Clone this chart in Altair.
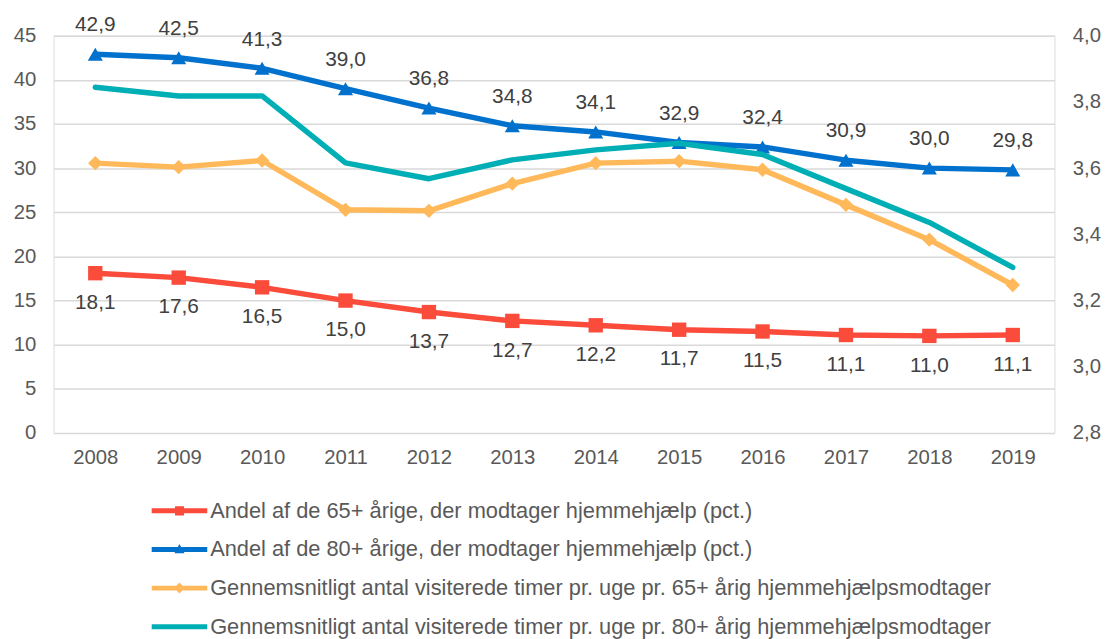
import altair as alt
import pandas as pd

years = [str(y) for y in range(2008, 2020)]
andel65 = [18.1, 17.6, 16.5, 15.0, 13.7, 12.7, 12.2, 11.7, 11.5, 11.1, 11.0, 11.1]
andel80 = [42.9, 42.5, 41.3, 39.0, 36.8, 34.8, 34.1, 32.9, 32.4, 30.9, 30.0, 29.8]
timer65 = [3.615, 3.603, 3.623, 3.474, 3.471, 3.553, 3.615, 3.621, 3.595, 3.489, 3.384, 3.247]
timer80 = [3.844, 3.818, 3.818, 3.616, 3.568, 3.625, 3.655, 3.675, 3.641, 3.538, 3.436, 3.300]

series_names = [
    "Andel af de 65+ årige, der modtager hjemmehjælp (pct.)",
    "Andel af de 80+ årige, der modtager hjemmehjælp (pct.)",
    "Gennemsnitligt antal visiterede timer pr. uge pr. 65+ årig hjemmehjælpsmodtager",
    "Gennemsnitligt antal visiterede timer pr. uge pr. 80+ årig hjemmehjælpsmodtager",
]
colors = ["#FA4B3B", "#0071CD", "#FFB95A", "#00AEB5"]

left_ticks = list(range(0, 50, 5))
right_ticks = [2.8, 3.0, 3.2, 3.4, 3.6, 3.8, 4.0]

rows = []
for name, vals in zip(series_names, [andel65, andel80, timer65, timer80]):
    for y, v in zip(years, vals):
        rows.append({"year": y, "series": name, "value": v})
df = pd.DataFrame(rows)

FONT = "Liberation Sans"
AX_FS = 20.5
base = alt.Chart(df)

x_enc = alt.X("year:O", scale=alt.Scale(type="point", padding=0.5),
              axis=alt.Axis(title=None, labelAngle=0, ticks=False, domain=False,
                            labelPadding=15, labelFontSize=AX_FS, labelColor="#595959",
                            labelFont=FONT))

yL = alt.Y("value:Q", scale=alt.Scale(domain=[0, 45], nice=False),
           axis=alt.Axis(title=None, values=left_ticks, ticks=False, tickSize=0, domain=False,
                         gridColor="#D9D9D9", gridWidth=1.5, labelPadding=18,
                         labelFontSize=AX_FS, labelColor="#595959", labelFont=FONT))
yR = alt.Y("value:Q", scale=alt.Scale(domain=[2.8, 4.0], nice=False, zero=False),
           axis=alt.Axis(title=None, orient="right", values=right_ticks, grid=False,
                         ticks=False, tickSize=0, domain=False, labelPadding=18,
                         labelFontSize=AX_FS, labelColor="#595959", labelFont=FONT,
                         labelExpr="replace(format(datum.value, '.1f'), '.', ',')"))


def sel(i):
    return base.transform_filter(alt.datum.series == series_names[i])


def line(i, y):
    return sel(i).mark_line(color=colors[i], strokeWidth=5.5, strokeJoin="round",
                            strokeCap="round").encode(x=x_enc, y=y)


def pts(i, y, shape, size):
    return sel(i).mark_point(shape=shape, filled=True, opacity=1, size=size,
                             color=colors[i]).encode(x=x_enc, y=y)


def labels(i, y, dy):
    return sel(i).transform_calculate(
        lab="replace(format(datum.value, '.1f'), '.', ',')"
    ).mark_text(dy=dy, fontSize=21, font=FONT, color="#404040", baseline="middle").encode(
        x=x_enc, y=y, text="lab:N")


left = alt.layer(
    line(0, yL), pts(0, yL, "square", 210), labels(0, yL, 30),
    line(1, yL), pts(1, yL, "triangle-up", 230), labels(1, yL, -29),
)
right = alt.layer(
    line(2, yR), pts(2, yR, "diamond", 210),
    line(3, yR),
)

# legend symbols: line with marker (unit path, scaled by sqrt(size)/2)
ln = "M-1,-0.135L2.03,-0.135L2.03,0.135L-1,0.135Z"
legend_shapes = [
    ln + "M0.27,-0.25L0.76,-0.25L0.76,0.25L0.27,0.25Z",
    ln + "M0.514,-0.3L0.79,0.2L0.24,0.2Z",
    ln + "M0.514,-0.3L0.8,0L0.514,0.3L0.23,0Z",
    ln,
]

leg = dict(title=None, orient="none", legendX=99, legendY=461,
           direction="vertical", symbolSize=1369,
           symbolStrokeWidth=0, labelOffset=22, rowPadding=9,
           labelFontSize=22, labelFont=FONT, labelColor="#595959",
           labelLimit=1000, padding=0, symbolOpacity=1)

legend_layer = base.transform_filter("false").mark_point(filled=True, opacity=1).encode(
    color=alt.Color("series:N", scale=alt.Scale(domain=series_names, range=colors),
                    legend=alt.Legend(**leg)),
    shape=alt.Shape("series:N", scale=alt.Scale(domain=series_names, range=legend_shapes),
                    legend=alt.Legend(**leg)),
)

chart = alt.layer(left, right, legend_layer).resolve_scale(y="independent").properties(
    width=1010, height=401,
    padding={"left": 5, "top": 3, "right": 5, "bottom": 5},
).configure_view(stroke=None).configure(font=FONT)

chart.save("out.html", embed_options={"renderer": "svg", "actions": False})
